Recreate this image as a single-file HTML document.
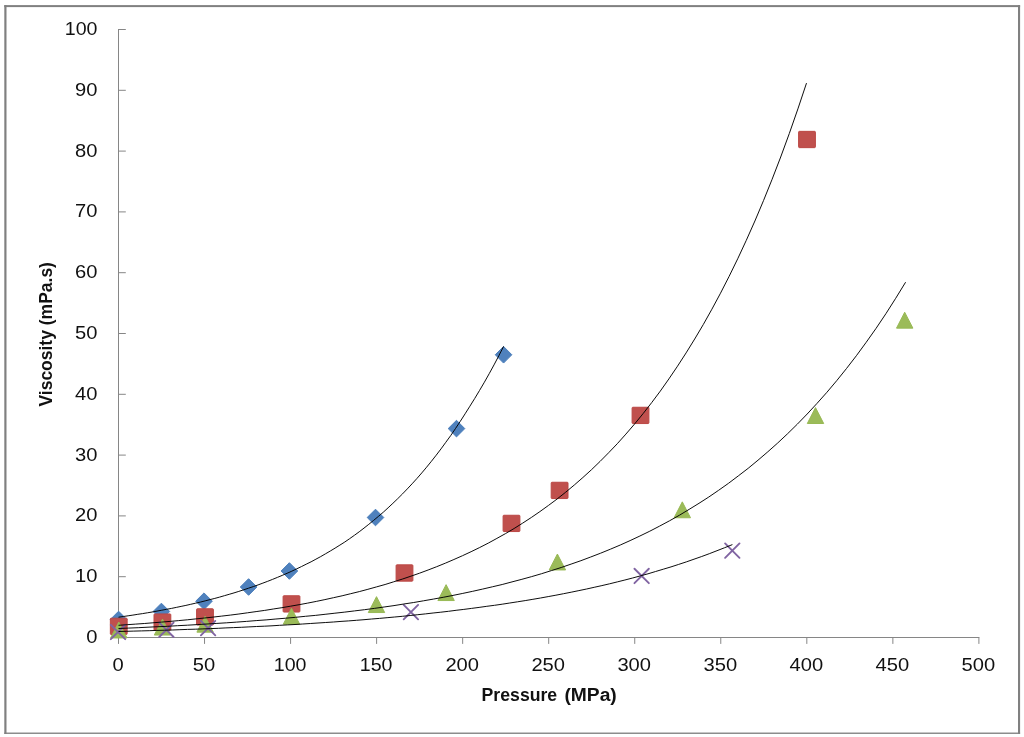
<!DOCTYPE html>
<html lang="en"><head><meta charset="utf-8"><title>Viscosity vs Pressure</title>
<style>
html,body{margin:0;padding:0;background:#fff;}
body{width:1024px;height:737px;overflow:hidden;}
svg{display:block;}
text{font-family:"Liberation Sans","DejaVu Sans",sans-serif;fill:#111;}
.ax{font-size:18px;}
.ttl{font-size:17.6px;font-weight:bold;}
</style></head><body>
<svg style="will-change:transform" width="1024" height="737" viewBox="0 0 1024 737">
<rect x="0" y="0" width="1024" height="737" fill="#fff"/>
<g fill="#808080"><rect x="4.3" y="5.1" width="2.2" height="728.8"/><rect x="4.3" y="5.1" width="1015.8" height="2"/><rect x="1018" y="5.1" width="2.1" height="728.8"/><rect x="4.3" y="732.55" width="1015.8" height="1.35"/></g>

<g stroke="#868686" stroke-width="1" fill="none">
<path d="M118.5 29V638"/>
<path d="M118 637.5H979.4"/>
<path d="M118.5 637.5H125.8"/>
<path d="M118.50 637.5V643.9"/>
<path d="M118.5 576.7H125.8"/>
<path d="M204.54 637.5V643.9"/>
<path d="M118.5 515.9H125.8"/>
<path d="M290.58 637.5V643.9"/>
<path d="M118.5 455.1H125.8"/>
<path d="M376.62 637.5V643.9"/>
<path d="M118.5 394.3H125.8"/>
<path d="M462.66 637.5V643.9"/>
<path d="M118.5 333.5H125.8"/>
<path d="M548.70 637.5V643.9"/>
<path d="M118.5 272.7H125.8"/>
<path d="M634.74 637.5V643.9"/>
<path d="M118.5 211.9H125.8"/>
<path d="M720.78 637.5V643.9"/>
<path d="M118.5 151.1H125.8"/>
<path d="M806.82 637.5V643.9"/>
<path d="M118.5 90.3H125.8"/>
<path d="M892.86 637.5V643.9"/>
<path d="M118.5 29.5H125.8"/>
<path d="M978.90 637.5V643.9"/>
</g>
<g class="ax" text-anchor="end">
<text transform="translate(97.5,642.9) scale(1.12,1)">0</text>
<text transform="translate(97.5,582.1) scale(1.12,1)">10</text>
<text transform="translate(97.5,521.3) scale(1.12,1)">20</text>
<text transform="translate(97.5,460.5) scale(1.12,1)">30</text>
<text transform="translate(97.5,399.7) scale(1.12,1)">40</text>
<text transform="translate(97.5,338.9) scale(1.12,1)">50</text>
<text transform="translate(97.5,278.1) scale(1.12,1)">60</text>
<text transform="translate(97.5,217.3) scale(1.12,1)">70</text>
<text transform="translate(97.5,156.5) scale(1.12,1)">80</text>
<text transform="translate(97.5,95.7) scale(1.12,1)">90</text>
<text transform="translate(97.5,34.9) scale(1.09,1)">100</text>
</g>
<g class="ax" text-anchor="middle">
<text transform="translate(118.0,670.6) scale(1.12,1)">0</text>
<text transform="translate(204.0,670.6) scale(1.12,1)">50</text>
<text transform="translate(290.1,670.6) scale(1.09,1)">100</text>
<text transform="translate(376.1,670.6) scale(1.09,1)">150</text>
<text transform="translate(462.2,670.6) scale(1.12,1)">200</text>
<text transform="translate(548.2,670.6) scale(1.12,1)">250</text>
<text transform="translate(634.2,670.6) scale(1.12,1)">300</text>
<text transform="translate(720.3,670.6) scale(1.12,1)">350</text>
<text transform="translate(806.3,670.6) scale(1.12,1)">400</text>
<text transform="translate(892.4,670.6) scale(1.12,1)">450</text>
<text transform="translate(978.4,670.6) scale(1.12,1)">500</text>
</g>
<text class="ttl" y="701.4"><tspan x="481.6" textLength="75.6" lengthAdjust="spacingAndGlyphs">Pressure</tspan><tspan> </tspan><tspan x="564.4" textLength="52.4" lengthAdjust="spacingAndGlyphs">(MPa)</tspan></text>
<text class="ttl" text-anchor="middle" transform="translate(51.5,334.3) rotate(-90)" textLength="144.5" lengthAdjust="spacingAndGlyphs">Viscosity (mPa.s)</text>
<g fill="#4F81BD" stroke="#4A7EBB" stroke-width="1" stroke-linejoin="round">
<path d="M118.60 611.20L126.90 619.50L118.60 627.80L110.30 619.50Z"/>
<path d="M161.40 603.20L169.70 611.50L161.40 619.80L153.10 611.50Z"/>
<path d="M204.00 592.90L212.30 601.20L204.00 609.50L195.70 601.20Z"/>
<path d="M248.60 578.70L256.90 587.00L248.60 595.30L240.30 587.00Z"/>
<path d="M289.40 562.70L297.70 571.00L289.40 579.30L281.10 571.00Z"/>
<path d="M375.50 509.20L383.80 517.50L375.50 525.80L367.20 517.50Z"/>
<path d="M456.50 420.30L464.80 428.60L456.50 436.90L448.20 428.60Z"/>
<path d="M503.55 346.45L511.85 354.75L503.55 363.05L495.25 354.75Z"/>
</g>
<g fill="#C0504D" stroke="#BB4744" stroke-width="1" stroke-linejoin="round">
<rect x="110.35" y="618.20" width="16.8" height="16.3" rx="0.8"/>
<rect x="154.00" y="613.95" width="16.8" height="16.3" rx="0.8"/>
<rect x="196.60" y="608.75" width="16.8" height="16.3" rx="0.8"/>
<rect x="283.10" y="595.75" width="16.8" height="16.3" rx="0.8"/>
<rect x="396.10" y="564.85" width="16.8" height="16.3" rx="0.8"/>
<rect x="503.10" y="515.25" width="16.8" height="16.3" rx="0.8"/>
<rect x="551.20" y="482.25" width="16.8" height="16.3" rx="0.8"/>
<rect x="632.10" y="407.25" width="16.8" height="16.3" rx="0.8"/>
<rect x="798.60" y="131.35" width="16.8" height="16.3" rx="0.8"/>
</g>
<g fill="#9BBB59" stroke="#98B954" stroke-width="1" stroke-linejoin="round">
<path d="M118.80 622.05L127.00 637.95L110.60 637.95Z"/>
<path d="M162.50 619.15L170.70 635.05L154.30 635.05Z"/>
<path d="M205.10 616.25L213.30 632.15L196.90 632.15Z"/>
<path d="M291.50 608.25L299.70 624.15L283.30 624.15Z"/>
<path d="M376.50 596.65L384.70 612.55L368.30 612.55Z"/>
<path d="M446.10 584.65L454.30 600.55L437.90 600.55Z"/>
<path d="M557.40 554.05L565.60 569.95L549.20 569.95Z"/>
<path d="M682.30 501.85L690.50 517.75L674.10 517.75Z"/>
<path d="M815.50 407.60L823.70 423.50L807.30 423.50Z"/>
<path d="M904.70 312.25L912.90 328.15L896.50 328.15Z"/>
</g>
<g stroke="#8064A2" stroke-width="1.9" fill="none" stroke-linecap="round">
<path d="M110.80 624.80L125.20 639.20M110.80 639.20L125.20 624.80"/>
<path d="M159.20 622.60L173.60 637.00M159.20 637.00L173.60 622.60"/>
<path d="M200.90 620.90L215.30 635.30M200.90 635.30L215.30 620.90"/>
<path d="M403.70 604.90L418.10 619.30M403.70 619.30L418.10 604.90"/>
<path d="M634.45 568.75L648.85 583.15M634.45 583.15L648.85 568.75"/>
<path d="M725.10 543.40L739.50 557.80M725.10 557.80L739.50 543.40"/>
</g>
<g stroke="#000" stroke-width="0.95" fill="none" stroke-linejoin="round">
<path d="M118.5 617.2L123.3 616.5L128.1 615.8L132.9 615.1L137.8 614.3L142.6 613.6L147.4 612.8L152.2 612.0L157.0 611.1L161.8 610.2L166.6 609.3L171.5 608.4L176.3 607.4L181.1 606.4L185.9 605.4L190.7 604.3L195.5 603.2L200.3 602.1L205.1 600.9L210.0 599.6L214.8 598.4L219.6 597.1L224.4 595.7L229.2 594.3L234.0 592.9L238.8 591.4L243.7 589.8L248.5 588.2L253.3 586.6L258.1 584.9L262.9 583.1L267.7 581.3L272.5 579.4L277.4 577.4L282.2 575.4L287.0 573.3L291.8 571.2L296.6 568.9L301.4 566.6L306.2 564.2L311.1 561.8L315.9 559.2L320.7 556.6L325.5 553.8L330.3 551.0L335.1 548.1L339.9 545.1L344.8 542.0L349.6 538.7L354.4 535.3L359.2 531.8L364.0 528.1L368.8 524.3L373.6 520.4L378.4 516.4L383.3 512.2L388.1 507.8L392.9 503.3L397.7 498.7L402.5 493.9L407.3 488.9L412.1 483.8L417.0 478.4L421.8 472.9L426.6 467.2L431.4 461.3L436.2 455.2L441.0 448.9L445.8 442.3L450.7 435.6L455.5 428.5L460.3 421.3L465.1 413.8L469.9 406.2L474.7 398.5L479.5 390.5L484.4 382.2L489.2 373.7L494.0 364.9L498.8 355.8L503.6 346.4"/>
<path d="M118.5 625.3L127.1 624.7L135.7 624.1L144.3 623.5L152.9 622.8L161.5 622.1L170.1 621.4L178.7 620.6L187.3 619.8L195.9 618.9L204.5 618.0L213.1 617.1L221.7 616.1L230.3 615.1L238.9 614.0L247.5 612.8L256.1 611.6L264.7 610.4L273.3 609.0L281.9 607.7L290.5 606.2L299.1 604.7L307.7 603.1L316.3 601.4L324.9 599.6L333.5 597.7L342.1 595.8L350.7 593.7L359.3 591.6L367.9 589.3L376.5 586.9L385.1 584.5L393.7 581.8L402.3 579.1L410.9 576.2L419.5 573.2L428.1 570.0L436.7 566.7L445.3 563.2L453.9 559.5L462.5 555.7L471.1 551.7L479.7 547.5L488.3 543.1L496.9 538.4L505.5 533.6L514.1 528.5L522.7 523.1L531.3 517.5L539.9 511.6L548.5 505.4L557.1 499.0L565.7 492.2L574.3 485.0L582.9 477.5L591.5 469.7L600.1 461.4L608.7 452.7L617.3 443.7L625.9 434.1L634.5 424.1L643.1 413.6L651.7 402.6L660.3 391.1L668.9 378.9L677.5 366.2L686.1 352.9L694.7 339.0L703.3 324.5L711.9 309.2L720.5 293.2L729.1 276.4L737.7 258.8L746.3 240.3L754.9 221.0L763.5 200.6L772.1 179.3L780.7 157.0L789.3 133.5L797.9 108.9L806.5 83.1"/>
<path d="M118.5 628.5L128.3 628.1L138.2 627.7L148.0 627.2L157.9 626.7L167.7 626.3L177.5 625.7L187.4 625.2L197.2 624.6L207.0 624.0L216.9 623.4L226.7 622.8L236.6 622.1L246.4 621.4L256.2 620.6L266.1 619.9L275.9 619.0L285.8 618.2L295.6 617.3L305.4 616.3L315.3 615.4L325.1 614.3L334.9 613.2L344.8 612.1L354.6 610.9L364.5 609.7L374.3 608.4L384.1 607.0L394.0 605.6L403.8 604.0L413.7 602.5L423.5 600.8L433.3 599.1L443.2 597.3L453.0 595.4L462.8 593.4L472.7 591.3L482.5 589.1L492.4 586.8L502.2 584.5L512.0 581.9L521.9 579.3L531.7 576.6L541.6 573.7L551.4 570.6L561.2 567.5L571.1 564.1L580.9 560.7L590.7 557.0L600.6 553.2L610.4 549.2L620.3 545.0L630.1 540.6L639.9 536.0L649.8 531.2L659.6 526.1L669.5 520.8L679.3 515.3L689.1 509.4L699.0 503.3L708.8 497.0L718.6 490.3L728.5 483.3L738.3 475.9L748.2 468.3L758.0 460.2L767.8 451.8L777.7 443.0L787.5 433.8L797.3 424.2L807.2 414.0L817.0 403.4L826.9 392.3L836.7 380.7L846.5 368.5L856.4 355.7L866.2 342.3L876.1 328.3L885.9 313.7L895.7 298.3L905.6 282.2"/>
<path d="M118.5 631.5L126.2 631.3L133.8 631.1L141.5 630.9L149.2 630.7L156.9 630.4L164.5 630.2L172.2 630.0L179.9 629.7L187.6 629.4L195.2 629.2L202.9 628.9L210.6 628.6L218.3 628.3L225.9 627.9L233.6 627.6L241.3 627.3L248.9 626.9L256.6 626.5L264.3 626.2L272.0 625.8L279.6 625.3L287.3 624.9L295.0 624.5L302.7 624.0L310.3 623.5L318.0 623.0L325.7 622.5L333.4 622.0L341.0 621.4L348.7 620.9L356.4 620.3L364.0 619.7L371.7 619.0L379.4 618.4L387.1 617.7L394.7 617.0L402.4 616.3L410.1 615.5L417.8 614.7L425.4 613.9L433.1 613.0L440.8 612.2L448.5 611.3L456.1 610.3L463.8 609.4L471.5 608.4L479.1 607.4L486.8 606.3L494.5 605.3L502.2 604.2L509.8 603.0L517.5 601.8L525.2 600.6L532.9 599.3L540.5 598.0L548.2 596.6L555.9 595.2L563.6 593.7L571.2 592.2L578.9 590.6L586.6 589.0L594.2 587.3L601.9 585.6L609.6 583.8L617.3 581.9L624.9 580.0L632.6 578.0L640.3 575.9L648.0 573.8L655.6 571.5L663.3 569.2L671.0 566.9L678.7 564.4L686.3 561.9L694.0 559.2L701.7 556.5L709.3 553.7L717.0 550.7L724.7 547.7L732.4 544.6"/>
</g>
</svg></body></html>
